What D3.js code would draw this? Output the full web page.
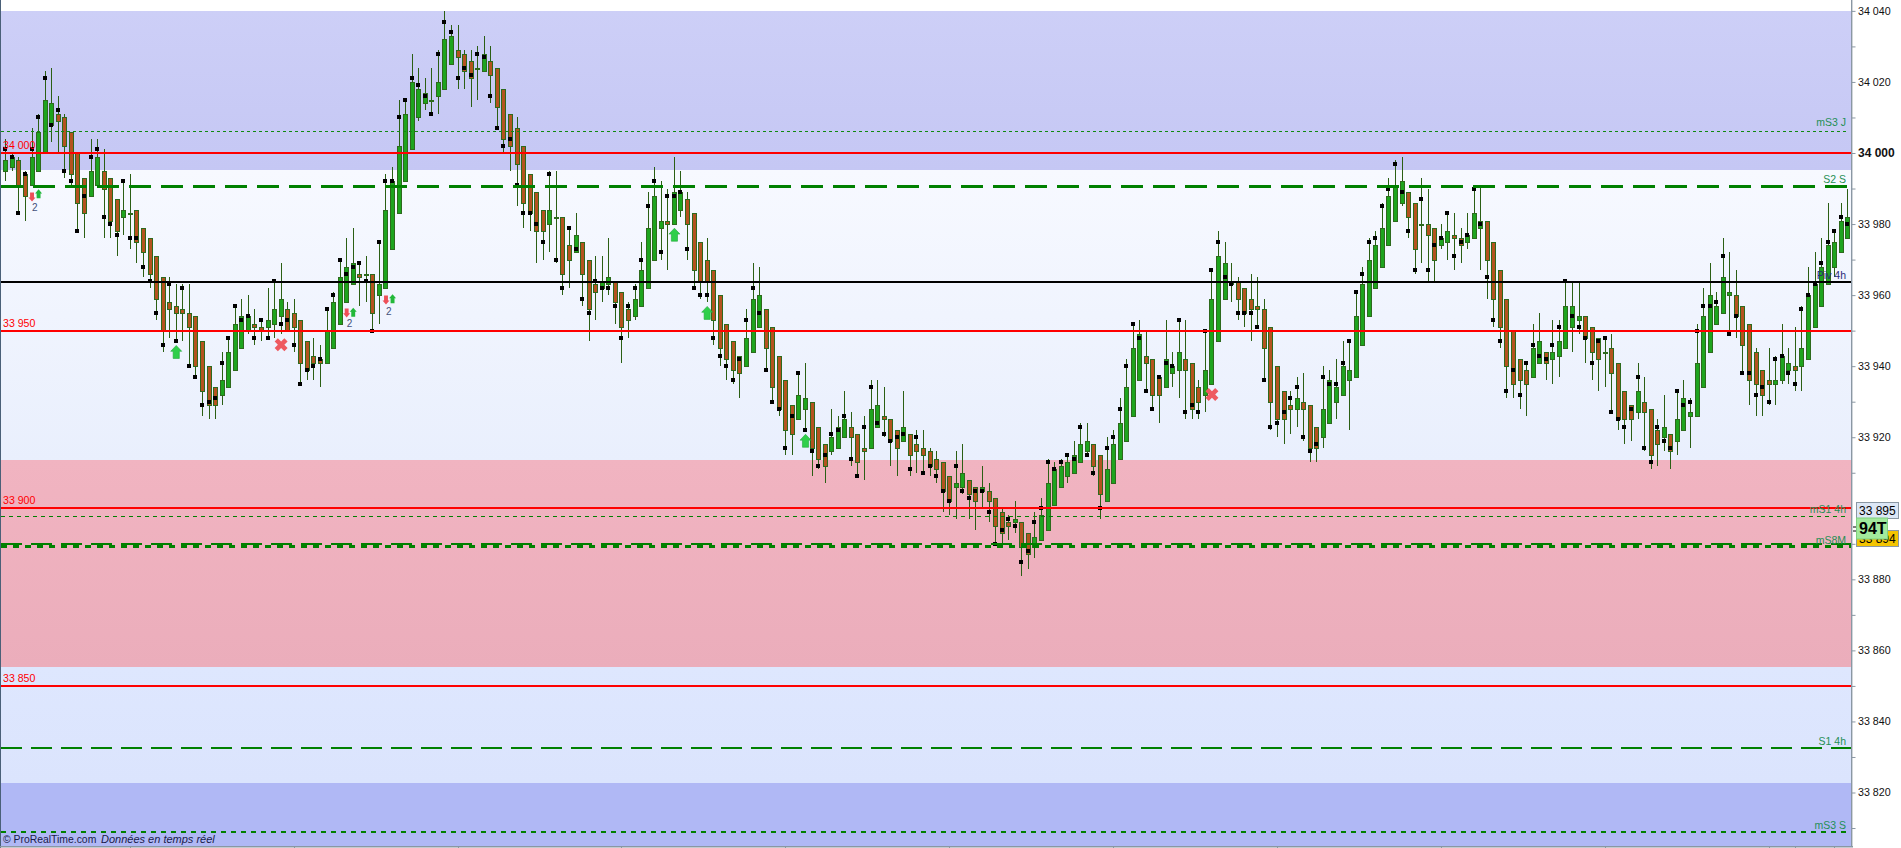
<!DOCTYPE html>
<html><head><meta charset="utf-8">
<style>html,body{margin:0;padding:0;background:#fff;overflow:hidden}svg{display:block}text{font-family:"Liberation Sans",Arial,sans-serif}</style>
<script src="https://cdn.jsdelivr.net/npm/d3@7"></script>
</head><body><svg id="c" width="1901" height="848"></svg>
<script>
const opens=[33995,33996,33998,33994,33991,33995,34000,34008,34011,34010,34006,34000,33993,33988,33991,33995,33993,33987,33982,33983,
33984,33979,33976,33971,33965,33958,33957,33956,33955,33954,33947,33940,33934,33932,33934,33939,33945,33950,33952,33951,
33951,33952,33954,33956,33955,33953,33947,33943,33942,33941,33945,33952,33958,33963,33966,33966,33966,33960,33962,33973,
33983,33992,34001,34010,34014,34015,34016,34018,34025,34029,34028,34026,34024,34023,34026,34024,34018,34011,34007,34002,
33994,33989,33984,33980,33982,33982,33974,33972,33975,33970,33963,33962,33963,33964,33961,33956,33954,33957,33962,33970,
33979,33981,33980,33984,33987,33983,33975,33970,33967,33960,33952,33947,33943,33940,33944,33951,33956,33951,33943,33936,
33929,33925,33928,33930,33923,33918,33916,33917,33920,33923,33921,33917,33917,33923,33926,33925,33922,33919,33921,33918,
33917,33916,33914,33913,33909,33906,33906,33908,33906,33905,33905,33903,33899,33896,33896,33896,33893,33889,33891,33894,
33901,33906,33909,33910,33913,33916,33918,33915,33902,33907,33914,33919,33926,33936,33943,33942,33937,33934,33938,33939,
33942,33941,33934,33932,33935,33947,33959,33963,33964,33962,33959,33957,33956,33951,33940,33933,33929,33928,33930,33929,
33923,33920,33924,33930,33932,33936,33937,33946,33954,33962,33968,33974,33981,33986,33989,33986,33980,33980,33979,33974,
33975,33977,33976,33975,33976,33979,33981,33975,33967,33959,33950,33942,33939,33937,33941,33944,33942,33943,33945,33951,
33953,33954,33951,33948,33944,33945,33941,33933,33929,33927,33930,33928,33922,33920,33921,33919,33922,33926,33926,33934,
33944,33952,33955,33960,33960,33957,33952,33944,33939,33936,33935,33936,33939,33940,33940,33942,33951,33957,33963,33968,33972,33976];
const closes=[33998,33999,33991,33988,33999,34006,34015,34014,34009,34002,33994,33986,33983,33995,33999,33990,33981,33978,33984,33983,
33975,33972,33966,33959,33950,33956,33955,33955,33951,33940,33933,33929,33929,33936,33944,33952,33954,33954,33951,33950,
33953,33956,33959,33950,33951,33941,33939,33941,33941,33950,33958,33965,33968,33969,33965,33966,33955,33963,33984,33992,
34002,34011,34020,34018,34017,34015,34020,34032,34033,34027,34023,34021,34024,34028,34022,34013,34004,34002,33997,33986,
33983,33978,33978,33984,33982,33966,33970,33977,33966,33956,33961,33964,33965,33958,33951,33953,33959,33967,33979,33988,
33981,33980,33989,33989,33980,33967,33964,33964,33953,33945,33942,33939,33938,33948,33959,33960,33945,33934,33928,33922,
33921,33932,33931,33917,33914,33912,33920,33923,33925,33920,33913,33916,33928,33929,33925,33919,33917,33923,33915,33916,
33915,33912,33911,33905,33902,33907,33910,33904,33902,33906,33902,33895,33893,33895,33897,33889,33887,33892,33898,33907,
33911,33912,33913,33915,33918,33919,33912,33904,33911,33918,33924,33934,33945,33949,33941,33932,33932,33942,33940,33944,
33939,33928,33930,33939,33959,33971,33969,33964,33959,33955,33956,33956,33945,33930,33925,33925,33928,33931,33928,33917,
33917,33928,33936,33934,33940,33939,33954,33963,33970,33974,33979,33988,33991,33992,33982,33973,33980,33977,33970,33976,
33978,33976,33974,33977,33983,33981,33970,33959,33951,33940,33935,33936,33935,33945,33947,33941,33944,33947,33957,33957,
33954,33948,33944,33942,33944,33938,33925,33925,33925,33933,33927,33915,33918,33923,33916,33925,33931,33927,33941,33954,
33960,33957,33965,33961,33954,33946,33936,33935,33932,33935,33936,33943,33941,33939,33945,33960,33963,33968,33974,33975,33981,33982];
const highs=[34004,34000,33999,33995,34007,34011,34023,34024,34016,34011,34006,34000,33993,34004,34004,34001,33993,33987,33992,33994,
33984,33979,33976,33971,33965,33965,33963,33963,33963,33954,33947,33940,33934,33944,33948,33957,33959,33960,33956,33953,
33962,33964,33969,33958,33959,33953,33947,33948,33946,33956,33961,33970,33976,33979,33969,33971,33966,33975,33994,33996,
34015,34015,34028,34024,34021,34024,34029,34040,34036,34036,34029,34029,34030,34033,34030,34024,34018,34011,34010,34002,
33994,33989,33984,33995,33995,33982,33979,33983,33975,33970,33971,33971,33976,33964,33961,33958,33963,33975,33989,33996,
33992,33990,33999,33995,33989,33983,33975,33976,33967,33960,33952,33947,33943,33956,33969,33968,33956,33951,33943,33936,
33929,33938,33941,33930,33923,33918,33928,33926,33933,33927,33921,33926,33936,33936,33934,33925,33922,33933,33921,33922,
33922,33917,33916,33913,33909,33916,33918,33908,33906,33912,33907,33903,33900,33898,33902,33896,33893,33899,33903,33914,
33913,33914,33915,33919,33924,33924,33918,33915,33920,33922,33931,33942,33952,33953,33950,33942,33937,33953,33944,33953,
33953,33941,33936,33950,33967,33978,33975,33969,33965,33962,33966,33965,33959,33951,33940,33933,33933,33937,33938,33929,
33923,33940,33939,33942,33947,33947,33961,33968,33976,33978,33986,33993,33998,33999,33989,33986,33993,33990,33979,33980,
33983,33983,33979,33983,33990,33991,33981,33975,33967,33959,33950,33942,33941,33952,33955,33944,33953,33953,33964,33964,
33964,33954,33951,33948,33948,33949,33941,33933,33929,33941,33937,33928,33925,33932,33921,33933,33936,33931,33952,33962,
33969,33961,33976,33972,33967,33957,33952,33945,33939,33945,33943,33952,33945,33951,33957,33968,33972,33976,33986,33978,33986,33990];
const lows=[33992,33995,33983,33981,33991,33995,34000,34003,34000,33993,33991,33978,33976,33988,33991,33976,33976,33971,33977,33973,
33969,33965,33962,33953,33944,33948,33947,33947,33940,33937,33926,33925,33925,33929,33934,33939,33945,33949,33946,33947,
33948,33948,33949,33950,33944,33935,33936,33936,33934,33941,33945,33952,33958,33963,33957,33958,33950,33952,33962,33973,
33983,33992,34001,34009,34012,34011,34011,34018,34025,34018,34018,34013,34015,34023,34014,34007,34000,33995,33985,33979,
33978,33969,33970,33972,33969,33960,33962,33972,33957,33947,33953,33958,33960,33952,33941,33948,33953,33957,33962,33970,
33970,33967,33980,33982,33970,33962,33959,33958,33946,33940,33936,33935,33931,33940,33944,33951,33939,33930,33926,33915,
33915,33925,33922,33909,33911,33907,33915,33917,33920,33912,33909,33908,33917,33923,33920,33912,33909,33919,33909,33910,
33910,33909,33907,33899,33898,33897,33904,33897,33894,33900,33896,33890,33890,33891,33893,33881,33883,33886,33891,33894,
33901,33906,33907,33910,33913,33915,33909,33897,33902,33907,33914,33919,33926,33936,33933,33928,33924,33934,33934,33931,
33925,33925,33925,33927,33935,33947,33959,33958,33953,33951,33947,33951,33936,33922,33920,33918,33921,33923,33919,33913,
33913,33917,33924,33925,33932,33922,33937,33946,33954,33962,33968,33974,33981,33985,33976,33966,33969,33964,33964,33973,
33970,33967,33969,33973,33976,33967,33959,33951,33945,33931,33931,33928,33926,33937,33941,33936,33935,33937,33945,33944,
33949,33941,33936,33933,33934,33927,33922,33918,33919,33925,33916,33911,33912,33916,33911,33915,33922,33917,33926,33934,
33944,33952,33955,33949,33948,33938,33929,33926,33926,33929,33929,33935,33935,33933,33933,33942,33951,33957,33963,33965,33972,33976];
const dots=[34001,33999,33983,33994,34001,34010,34021,34008,34012,33995,33992,33978,33988,33999,34001,33982,33980,33977,33992,33976,
33976,33968,33964,33955,33946,33963,33947,33962,33940,33937,33929,33930,33931,33941,33948,33957,33953,33954,33948,33953,
33948,33964,33952,33953,33946,33935,33939,33940,33942,33956,33960,33970,33966,33968,33969,33964,33950,33975,33992,33992,
34010,34015,34021,34019,34016,34011,34028,34037,34034,34021,34024,34022,34028,34027,34016,34007,34002,34004,33991,33983,
33983,33980,33975,33994,33970,33962,33979,33973,33959,33955,33964,33962,33962,33957,33948,33957,33962,33970,33985,33992,
33972,33988,33988,33989,33973,33962,33960,33960,33948,33943,33940,33936,33942,33953,33962,33955,33939,33930,33928,33917,
33926,33938,33922,33916,33912,33915,33921,33922,33926,33914,33909,33923,33934,33924,33921,33919,33920,33921,33911,33920,
33910,33912,33909,33905,33902,33912,33905,33903,33905,33905,33899,33890,33894,33897,33895,33885,33888,33896,33900,33913,
33911,33913,33915,33914,33923,33915,33910,33900,33917,33920,33928,33940,33952,33948,33933,33928,33937,33941,33940,33953,
33927,33929,33927,33950,33967,33975,33965,33963,33955,33955,33955,33951,33936,33923,33924,33927,33931,33934,33920,33916,
33918,33937,33935,33935,33941,33947,33961,33966,33975,33976,33985,33990,33997,33989,33978,33967,33987,33967,33974,33976,
33983,33971,33975,33977,33990,33980,33965,33953,33947,33933,33939,33932,33941,33946,33943,33942,33946,33951,33964,33954,
33951,33948,33941,33947,33948,33927,33925,33923,33928,33937,33917,33913,33923,33919,33917,33933,33929,33930,33950,33957,
33957,33958,33971,33949,33954,33938,33938,33932,33934,33930,33942,33943,33938,33935,33956,33960,33963,33969,33975,33978,33982,33980];

// background zones: [upper price, lower price, top colour, bottom colour]
const zonePrices=[34040,33995.2,33913.7,33855.3,33822.7,33808];
const zoneTop=["#cdcff7","#f7f9ff","#f1b4c1","#dee7fe","#b0b8f5"];
const zoneBottom=["#c5c7f4","#e9effd","#ebadbb","#dbe4fd","#b0b8f5"];
// horizontal levels
const redLevels=[34000,33950,33900,33850];
const redLabels=["34 000","33 950","33 900","33 850"];
const pivotLevel=33963.7;
const dashLevels=[
 {p:34006.2,w:1,d:"3,3",c:"#0f8a0f",e:1847},
 {p:33990.7,w:3,d:"22,10",c:"#008000",e:1847},
 {p:33897.8,w:1,d:"4,4",c:"#008000",e:1847},
 {p:33889.9,w:2,d:"21,9",c:"#008000",e:1851},
 {p:33889.4,w:3,d:"6,6",c:"#008000",e:1851},
 {p:33832.4,w:2,d:"21,9",c:"#008000",e:1851},
 {p:33808.9,w:2,d:"5,5",c:"#008000",e:1847}];
const rightLabels=[
 {t:"mS3 J",p:34006.7,c:"#1f8f55"},{t:"S2 S",p:33990.7,c:"#1f8f55"},{t:"Piv 4h",p:33963.7,c:"#2b2b78"},
 {t:"mS1 4h",p:33897.8,c:"#1f8f55"},{t:"mS8M",p:33889,c:"#1f8f55"},{t:"S1 4h",p:33832.4,c:"#1f8f55"},{t:"mS3 S",p:33808.9,c:"#1f8f55"}];
// price axis
const axisTicks=[34040,34030,34020,34010,34000,33990,33980,33970,33960,33950,33940,33930,33920,33910,33890,33880,33870,33860,33850,33840,33830,33820,33810];
const axisLabelled=[34040,34020,34000,33980,33960,33940,33920,33880,33860,33840,33820];
const timeTickIdx=[19,44,69,94,119,144,169,194,219,244,269,273,279];
// signals: candle index, price
const bigUp=[[26,33944],[102,33977],[107,33955],[122,33919]];
const crosses=[[42,33946],[184,33932]];
const smallDown=[[4,33987.6],[52,33955],[58,33958.6]];
const smallUp=[[5,33988.5],[53,33955.2],[59,33959]];
const counts=[[4.5,33983.7],[52.5,33951],[58.5,33954.5]];
// last price tags
const lastPriceTag={t:"33 895",p:33895};
const lastTradeTag={t:"33 894",p:33889};
const tickCountTag="94T";

[opens,closes,highs,lows,dots].forEach((a,i)=>{if(a.length!==opens.length)throw new Error("len "+i+" "+a.length+" vs "+opens.length)});

const svg=d3.select("#c");
const plotR=1851, axisX=1851.5, W=1901, H=848;
const y=d3.scaleLinear().domain([34000,33820]).range([153,792.5]);
const x=d3.scaleLinear().domain([0,opens.length-1]).range([5.3,1847.3]);
const cx=i=>Math.round(x(i));
const defs=svg.append("defs");

// zones
zoneTop.forEach((c,i)=>{
 const g=defs.append("linearGradient").attr("id","z"+i).attr("x1",0).attr("x2",0).attr("y1",0).attr("y2",1);
 g.append("stop").attr("offset",0).attr("stop-color",c);
 g.append("stop").attr("offset",1).attr("stop-color",zoneBottom[i]);
});
const bottomY=846;
svg.append("g").selectAll("rect").data(zoneTop).join("rect")
 .attr("x",1).attr("width",plotR-1)
 .attr("y",(d,i)=>Math.round(y(zonePrices[i])))
 .attr("height",(d,i)=>(i===zoneTop.length-1?bottomY:Math.round(y(zonePrices[i+1])))-Math.round(y(zonePrices[i])))
 .attr("fill",(d,i)=>`url(#z${i})`);

const idx=d3.range(opens.length);
// wicks
svg.append("g").selectAll("line").data(idx).join("line")
 .attr("x1",i=>cx(i)+.5).attr("x2",i=>cx(i)+.5)
 .attr("y1",i=>Math.round(y(highs[i]))).attr("y2",i=>Math.round(y(lows[i])))
 .attr("stroke","#2b5f14").attr("stroke-width",1);
// bodies
svg.append("g").selectAll("rect").data(idx).join("rect")
 .attr("x",i=>cx(i)-1.5).attr("width",4)
 .attr("y",i=>Math.round(y(Math.max(opens[i],closes[i])))+.5)
 .attr("height",i=>Math.max(1,Math.round(y(Math.min(opens[i],closes[i])))-Math.round(y(Math.max(opens[i],closes[i])))))
 .attr("fill",i=>closes[i]>=opens[i]?"#1ea41e":"#b4531f")
 .attr("stroke",i=>"#2d6a1d").attr("stroke-width",1);
// black dots
svg.append("g").selectAll("rect").data(idx).join("rect")
 .attr("x",i=>cx(i)-2).attr("width",4).attr("height",4)
 .attr("y",i=>Math.round(y(dots[i]))-2).attr("fill","#000");

// signals
const arrow=(w,h)=>{const s=w*0.28,t=h*0.45;return `M0,${-h/2}L${w/2},${-h/2+t}L${s},${-h/2+t}L${s},${h/2}L${-s},${h/2}L${-s},${-h/2+t}L${-w/2},${-h/2+t}Z`};
svg.append("g").selectAll("path").data(bigUp).join("path")
 .attr("d",arrow(11,13)).attr("transform",d=>`translate(${x(d[0])+.5},${y(d[1])})`)
 .attr("fill","#2fcf4a").attr("stroke","#22a83a").attr("stroke-width",.6);
svg.append("g").selectAll("path").data(smallUp).join("path")
 .attr("d",arrow(7,9)).attr("transform",d=>`translate(${x(d[0])+.5},${y(d[1])})`)
 .attr("fill","#22b83a");
svg.append("g").selectAll("path").data(smallDown).join("path")
 .attr("d",arrow(7,9)).attr("transform",d=>`translate(${x(d[0])+.5},${y(d[1])}) rotate(180)`)
 .attr("fill","#ee4f58");
svg.append("g").selectAll("path").data(crosses).join("path")
 .attr("d",d3.symbol().type(d3.symbolCross).size(105)())
 .attr("transform",d=>`translate(${x(d[0])+.5},${y(d[1])}) rotate(45)`)
 .attr("fill","#ee5a60");
svg.append("g").selectAll("text").data(counts).join("text")
 .attr("x",d=>x(d[0])).attr("y",d=>y(d[1])).attr("text-anchor","middle")
 .attr("font-size",10).attr("fill","#44507a").text("2");

// levels
svg.append("g").selectAll("line").data(dashLevels).join("line")
 .attr("x1",1).attr("x2",d=>d.e)
 .attr("y1",d=>Math.round(y(d.p))+(d.w%2?.5:0)).attr("y2",d=>Math.round(y(d.p))+(d.w%2?.5:0))
 .attr("stroke",d=>d.c).attr("stroke-width",d=>d.w).attr("stroke-dasharray",d=>d.d);
svg.append("line").attr("x1",1).attr("x2",plotR).attr("y1",Math.round(y(pivotLevel))).attr("y2",Math.round(y(pivotLevel)))
 .attr("stroke","#000").attr("stroke-width",2);
svg.append("g").selectAll("line").data(redLevels).join("line")
 .attr("x1",1).attr("x2",plotR).attr("y1",d=>Math.round(y(d))).attr("y2",d=>Math.round(y(d)))
 .attr("stroke","#f00").attr("stroke-width",2);
svg.append("g").selectAll("text").data(redLevels).join("text")
 .attr("x",3).attr("y",d=>Math.round(y(d))-4).attr("font-size",10.6).attr("fill","#f00")
 .text((d,i)=>redLabels[i]);
svg.append("g").selectAll("text").data(rightLabels).join("text")
 .attr("x",1846).attr("y",d=>Math.round(y(d.p))-3).attr("text-anchor","end")
 .attr("font-size",10.5).attr("fill",d=>d.c).text(d=>d.t);

// footer
const foot=svg.append("text").attr("x",3).attr("y",843).attr("font-size",10.4).attr("fill","#1a1a4a");
foot.append("tspan").text("© ProRealTime.com");
foot.append("tspan").attr("x",101).attr("font-style","italic").attr("font-size",11).text("Données en temps réel");

// borders and axes
svg.append("rect").attr("x",0).attr("y",0).attr("width",1).attr("height",H).attr("fill","#4a6078");
svg.append("rect").attr("x",0).attr("y",846).attr("width",plotR+2).attr("height",1.5).attr("fill","#8a97a3");
svg.append("g").selectAll("line").data(timeTickIdx).join("line")
 .attr("x1",i=>cx(i)+.5).attr("x2",i=>cx(i)+.5).attr("y1",846).attr("y2",848).attr("stroke","#8a97a3");

const axis=d3.axisRight(y).tickValues(axisTicks).tickSize(4).tickPadding(3)
 .tickFormat(d=>axisLabelled.includes(d)?String(d).slice(0,2)+" "+String(d).slice(2):"");
const ag=svg.append("g").attr("transform",`translate(${axisX},0)`).call(axis);
ag.select(".domain").remove();
svg.append("rect").attr("x",plotR).attr("y",0).attr("width",1.4).attr("height",847).attr("fill","#8a97a3");
ag.selectAll("line").attr("stroke","#8a97a3").attr("x1",.5).attr("x2",4);
ag.selectAll("text").attr("font-family",'"Liberation Sans",Arial,sans-serif').attr("font-size",d=>d===34000?12:10.7)
 .attr("font-weight",d=>d===34000?"bold":"normal").attr("fill","#111").attr("x",6.5);

// price tags
function tag(yMid,h,fill,stroke,txt,fs,w,bold){
 const g=svg.append("g");
 g.append("rect").attr("x",1856.5).attr("y",yMid-h/2).attr("width",w).attr("height",h).attr("fill",fill).attr("stroke",stroke);
 g.append("text").attr("x",1859).attr("y",yMid+fs*.36).attr("font-size",fs).attr("font-weight",bold?"bold":"normal").attr("fill","#000").text(txt);
}
svg.append("line").attr("x1",1853).attr("x2",1856).attr("y1",527).attr("y2",527).attr("stroke","#000");
svg.append("line").attr("x1",1853).attr("x2",1856).attr("y1",531).attr("y2",531).attr("stroke","#000");
tag(538.5,16,"#f4c400","#8a97a3",lastTradeTag.t,12,42);
tag(510.5,16,"#dce7f6","#8a97a3",lastPriceTag.t,12,42);
tag(528.5,21,"#a2ea9c","#7fd07f",tickCountTag,16,31,true);
</script></body></html>
